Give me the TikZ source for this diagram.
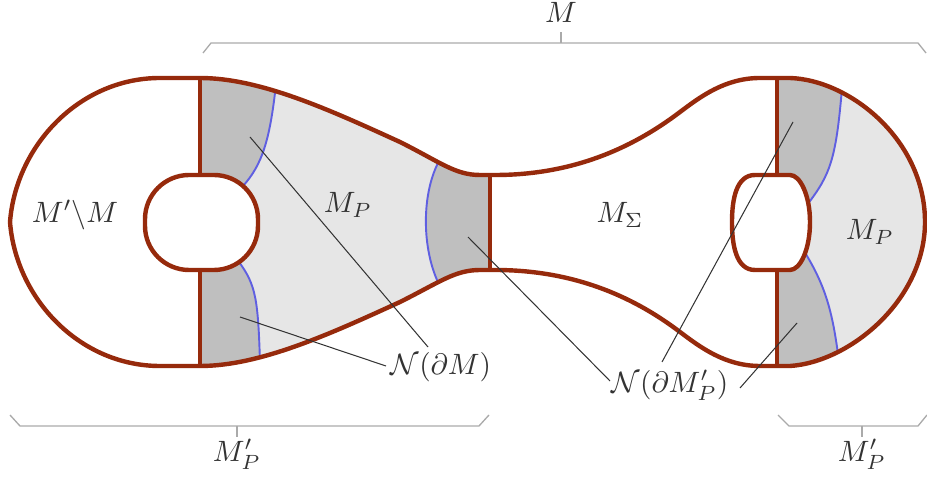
\documentclass[tikz,border=0pt]{standalone}
\usepackage{amsmath}
\definecolor{brn}{RGB}{150,42,12}
\definecolor{blu}{RGB}{95,95,225}
\definecolor{lg}{RGB}{230,230,230}
\definecolor{dg}{RGB}{191,191,191}
\definecolor{txt}{RGB}{51,51,51}
\definecolor{brg}{RGB}{170,170,170}
\begin{document}
\begin{tikzpicture}[x=0.34pt,y=-0.34pt,
  outl/.style={draw=brn,line width=1.5pt,line join=round},
  bnd/.style={draw=blu,line width=0.65pt},
  lead/.style={draw=txt,line width=0.35pt},
  brc/.style={draw=brg,line width=0.45pt},
  lbl/.style={text=txt,inner sep=0pt,font=\fontsize{10.2}{12}\selectfont}]
\useasboundingbox (0,0) rectangle (927,477);
\def\outerpath{(200,78) .. controls (260,78) and (330,110) .. (400,142)
  .. controls (440,162) and (455,175) .. (480,175) -- (495,175)
  .. controls (570,175) and (630,150) .. (680,112)
  .. controls (700,97) and (725,78) .. (760,78) -- (790,78)
  .. controls (850,80) and (925,140) .. (925,222)
  .. controls (925,300) and (850,362) .. (790,366) -- (760,366)
  .. controls (725,366) and (700,347) .. (680,332)
  .. controls (630,294) and (570,270) .. (495,270) -- (480,270)
  .. controls (455,270) and (440,282) .. (400,302)
  .. controls (330,334) and (260,366) .. (200,366) -- (160,366)
  .. controls (80,366) and (16,299) .. (10,222)
  .. controls (16,145) and (80,78) .. (160,78) -- cycle}
\begin{scope}
  \clip \outerpath;
  \fill[lg] (200,0) rectangle (490,477);
  \fill[lg] (777,0) rectangle (940,477);
  \fill[dg] (200,40) -- (278,40) -- (276,84) .. controls (270,140) and (262,165) .. (243,186) -- (243,230) -- (200,230) -- cycle;
  \fill[dg] (200,230) -- (239,230) -- (239,262) .. controls (256,285) and (258,300) .. (260,362) -- (261,400) -- (200,400) -- cycle;
  \fill[dg] (440,140) -- (438,163) .. controls (422,195) and (422,245) .. (437,280) -- (440,300) -- (490,300) -- (490,140) -- cycle;
  \fill[dg] (777,40) -- (843,40) -- (842,88) .. controls (836,160) and (830,175) .. (807,205) -- (777,205) -- cycle;
  \fill[dg] (777,240) -- (804,240) -- (804,251) .. controls (825,285) and (832,310) .. (838,354) -- (840,400) -- (777,400) -- cycle;
  \draw[bnd] (278,40) -- (276,84) .. controls (270,140) and (262,165) .. (243,186);
  \draw[bnd] (239,262) .. controls (256,285) and (258,300) .. (260,362) -- (261,400);
  \draw[bnd] (440,140) -- (438,163) .. controls (422,195) and (422,245) .. (437,280) -- (440,300);
  \draw[bnd] (843,40) -- (842,88) .. controls (836,160) and (830,175) .. (807,205);
  \draw[bnd] (804,251) .. controls (825,285) and (832,310) .. (838,354) -- (840,400);
\end{scope}
% holes
\draw[outl,fill=white,rounded corners=15pt] (145,175) rectangle (258,270);
\draw[outl,fill=white] (755,175) -- (790,175) .. controls (800,175) and (810,195) .. (810,222)
  .. controls (810,250) and (800,270) .. (790,270) -- (755,270)
  .. controls (736,270) and (732,245) .. (732,222) .. controls (732,200) and (736,175) .. (755,175) -- cycle;
% cuts
\draw[outl] (200,78) -- (200,175);
\draw[outl] (200,270) -- (200,366);
\draw[outl] (490,175) -- (490,270);
\draw[outl] (777,78) -- (777,175);
\draw[outl] (777,270) -- (777,366);
\draw[outl] \outerpath;
% region labels
\node[lbl] (lmm) at (75,215) {$M'\backslash M$};
\node[lbl] (lmp) at (348,205) {$M_P$};
\node[lbl] (lms) at (620,215) {$M_\Sigma$};
\node[lbl] (lmpr) at (870,232) {$M_P$};
% leaders
\node[lbl] (ndm) at (441,367) {$\mathcal{N}(\partial M)$};
\node[lbl] (ndmp) at (670,385) {$\mathcal{N}(\partial M'_P)$};
\coordinate (a1) at (250,137);
\coordinate (a2) at (428,347);
\coordinate (b1) at (240,317);
\coordinate (b2) at (386,366);
\coordinate (c1) at (468,237);
\coordinate (c2) at (610,381);
\coordinate (d1) at (793,122);
\coordinate (d2) at (662,362);
\coordinate (e1) at (797,323);
\coordinate (e2) at (740,388);
\draw[lead] (a1) -- (a2);
\draw[lead] (b1) -- (b2);
\draw[lead] (c1) -- (c2);
\draw[lead] (d1) -- (d2);
\draw[lead] (e1) -- (e2);
% braces
\node[lbl] (bm) at (561,12) {$M$};
\coordinate (bmt) at (561,32);
\coordinate (bmb) at (561,43);
\draw[brc] (203,53) -- (211,43) -- (918,43) -- (926,53);
\draw[brc] (bmb) -- (bmt);
\node[lbl] (bl) at (237,454) {$M'_P$};
\coordinate (blt) at (237,426);
\coordinate (blb) at (237,437);
\draw[brc] (10,415) -- (20,426) -- (479,426) -- (489,415);
\draw[brc] (blt) -- (blb);
\node[lbl] (br) at (862,454) {$M'_P$};
\coordinate (brt) at (862,426);
\coordinate (brb) at (862,437);
\draw[brc] (778,415) -- (789,426) -- (918,426) -- (927,415);
\draw[brc] (brt) -- (brb);
\end{tikzpicture}
\end{document}
